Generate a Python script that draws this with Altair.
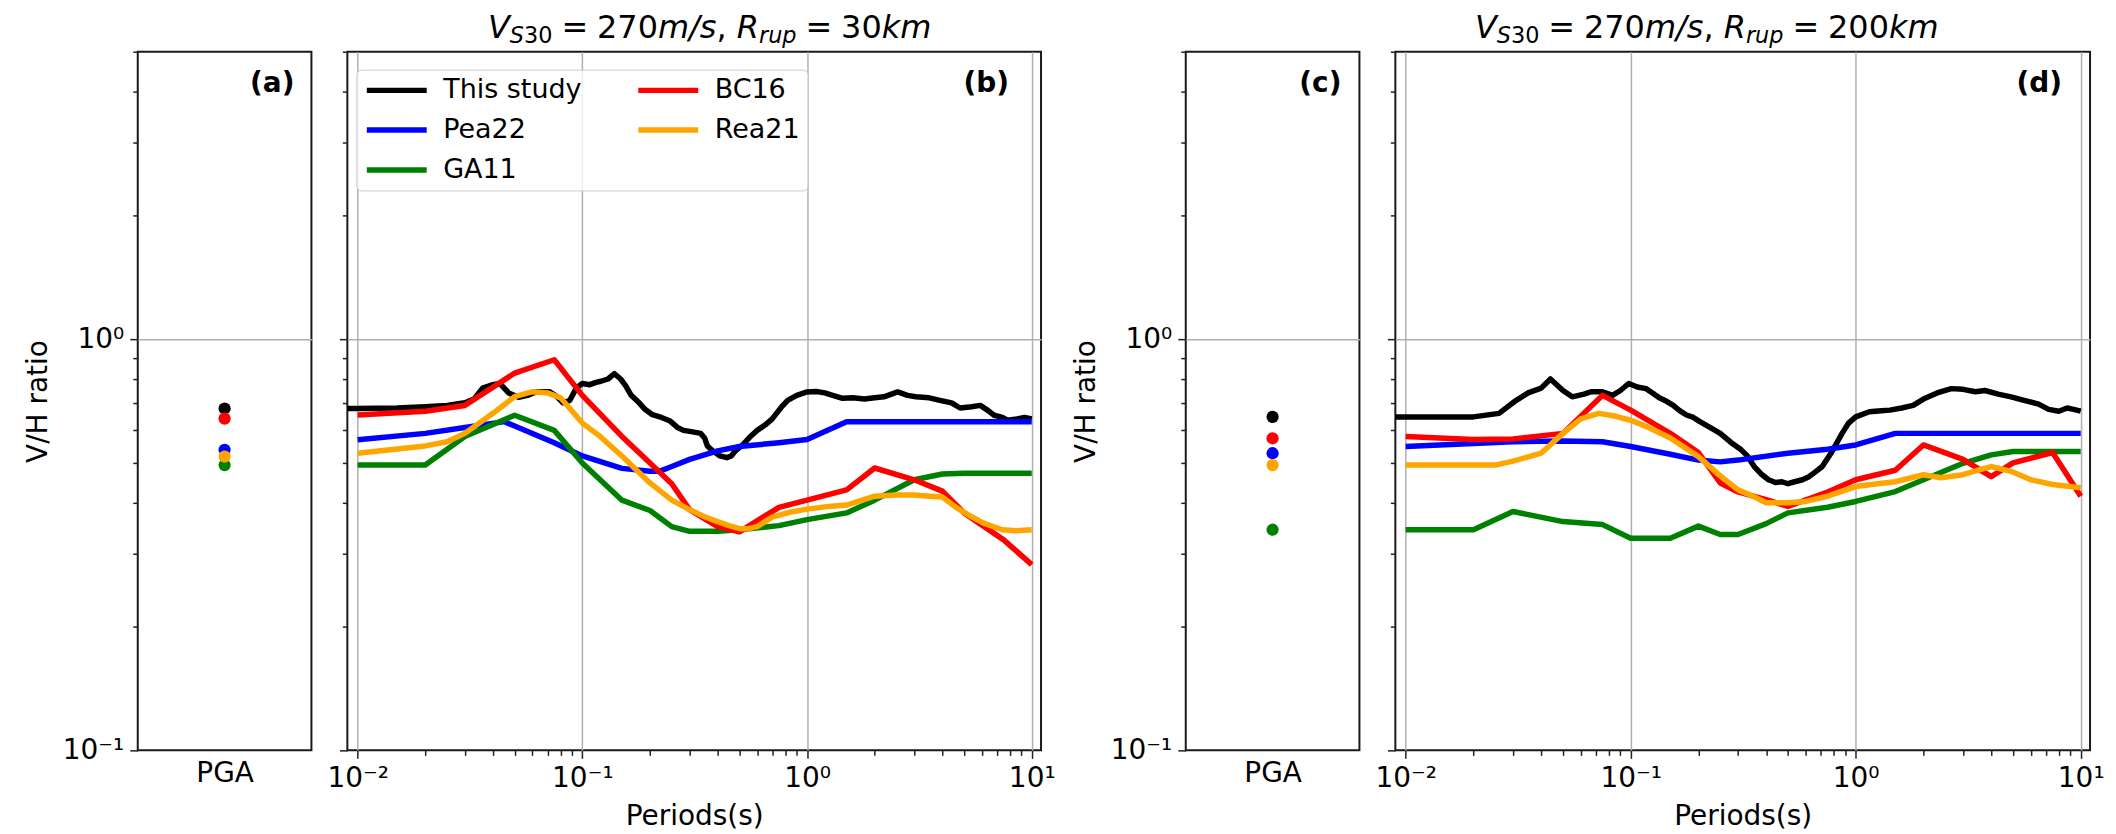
import altair as alt
import pandas as pd

FONT = "DejaVu Sans"

MODELS = ["This study", "Pea22", "GA11", "BC16", "Rea21"]
MODEL_COLORS = ["#000000", "#0000ff", "#008000", "#ff0000", "#ffa500"]
PGA_LABEL = "PGA"
TAGS = ["(a)", "(b)", "(c)", "(d)"]

# ---------------- PGA dots ----------------
pga_30 = [0.678, 0.538, 0.494, 0.641, 0.518]
pga_200 = [0.647, 0.528, 0.344, 0.574, 0.494]

# ---------------- R = 30 km ----------------
b_this_T = [0.008, 0.01, 0.015, 0.02, 0.025, 0.03, 0.033, 0.036, 0.04, 0.043, 0.047, 0.052, 0.057,
            0.0625, 0.0716, 0.077, 0.082, 0.088, 0.094, 0.1, 0.108, 0.115, 0.121, 0.13, 0.139,
            0.148, 0.156, 0.165, 0.179, 0.19, 0.205, 0.225, 0.246, 0.265, 0.282, 0.31, 0.336,
            0.35, 0.36, 0.38, 0.41, 0.44, 0.46, 0.48, 0.52, 0.56, 0.6, 0.65, 0.7, 0.77, 0.82,
            0.9, 1.0, 1.1, 1.2, 1.3, 1.44, 1.6, 1.8, 2.0, 2.2, 2.53, 2.8, 3.05, 3.5, 3.9, 4.4,
            4.8, 5.4, 5.9, 6.4, 6.8, 7.4, 7.8, 8.6, 9.3, 10.0]
b_this_v = [0.678, 0.678, 0.68, 0.685, 0.69, 0.70, 0.715, 0.76, 0.775, 0.78, 0.74, 0.722, 0.73,
            0.745, 0.745, 0.725, 0.70, 0.71, 0.76, 0.78, 0.775, 0.785, 0.79, 0.80, 0.824,
            0.80, 0.77, 0.73, 0.70, 0.675, 0.655, 0.645, 0.632, 0.61, 0.60, 0.595, 0.59,
            0.575, 0.55, 0.535, 0.52, 0.515, 0.52, 0.535, 0.555, 0.58, 0.60, 0.618, 0.64, 0.684, 0.71,
            0.73, 0.744, 0.746, 0.74, 0.73, 0.718, 0.72, 0.715, 0.72, 0.724, 0.744, 0.73, 0.724, 0.72, 0.71, 0.70,
            0.68, 0.685, 0.69, 0.67, 0.653, 0.645, 0.635, 0.64, 0.645, 0.64]

b_pea_T = [0.01, 0.02, 0.03, 0.045, 0.05, 0.075, 0.1, 0.15, 0.2, 0.22, 0.25, 0.3, 0.4, 0.5,
           0.75, 1.0, 1.5, 2.0, 3.0, 5.0, 7.5, 10.0]
b_pea_v = [0.569, 0.59, 0.61, 0.63, 0.615, 0.56, 0.52, 0.485, 0.477, 0.477, 0.49, 0.51, 0.535, 0.548,
           0.56, 0.57, 0.63, 0.63, 0.63, 0.63, 0.63, 0.63]

b_ga_T = [0.01, 0.02, 0.03, 0.05, 0.075, 0.1, 0.15, 0.2, 0.25, 0.3, 0.4, 0.5, 0.75, 1.0, 1.5,
          2.0, 3.0, 4.0, 5.0, 7.5, 10.0]
b_ga_v = [0.494, 0.494, 0.58, 0.653, 0.60, 0.50, 0.406, 0.383, 0.35, 0.341, 0.341, 0.344, 0.352,
          0.364, 0.378, 0.406, 0.455, 0.47, 0.472, 0.472, 0.472]

b_bc_T = [0.01, 0.02, 0.03, 0.05, 0.075, 0.1, 0.15, 0.2, 0.25, 0.3, 0.4, 0.5, 0.75, 1.0, 1.5,
          2.0, 3.0, 4.0, 5.0, 7.5, 10.0]
b_bc_v = [0.654, 0.668, 0.69, 0.827, 0.891, 0.73, 0.58, 0.50, 0.445, 0.385, 0.35, 0.34, 0.39,
          0.406, 0.43, 0.486, 0.455, 0.427, 0.378, 0.325, 0.283]

b_rea_T = [0.01, 0.02, 0.025, 0.03, 0.04, 0.05, 0.06, 0.07, 0.08, 0.1, 0.12, 0.15, 0.2, 0.25,
           0.3, 0.35, 0.4, 0.45, 0.5, 0.55, 0.6, 0.7, 0.85, 1.0, 1.25, 1.5, 2.0, 2.5, 3.0, 3.5,
           4.0, 4.6, 5.3, 6.1, 7.4, 8.5, 10.0]
b_rea_v = [0.528, 0.55, 0.563, 0.59, 0.66, 0.725, 0.745, 0.74, 0.72, 0.625, 0.58, 0.52, 0.447,
           0.406, 0.385, 0.37, 0.36, 0.352, 0.346, 0.346, 0.35, 0.369, 0.38, 0.386, 0.392, 0.395,
           0.415, 0.418, 0.418, 0.415, 0.413, 0.39, 0.372, 0.357, 0.344, 0.342, 0.344]

# ---------------- R = 200 km ----------------
d_this_T = [0.008, 0.01, 0.015, 0.02, 0.026, 0.031, 0.035, 0.04, 0.044, 0.05, 0.055, 0.062, 0.067,
            0.075, 0.083, 0.09, 0.098, 0.107, 0.117, 0.125, 0.134, 0.145, 0.154, 0.165, 0.177,
            0.19, 0.203, 0.225, 0.25, 0.28, 0.31, 0.33, 0.354, 0.38, 0.41, 0.44, 0.47, 0.5,
            0.535, 0.58, 0.62, 0.66, 0.71, 0.78, 0.87, 0.93, 1.0, 1.15, 1.3, 1.42, 1.6, 1.8,
            2.0, 2.3, 2.66, 3.0, 3.4, 3.75, 4.3, 4.9, 5.6, 6.5, 7.2, 8.0, 8.7, 9.3, 10.0]
d_this_v = [0.647, 0.647, 0.647, 0.647, 0.66, 0.71, 0.74, 0.76, 0.80, 0.75, 0.724, 0.735, 0.745,
            0.745, 0.73, 0.75, 0.78, 0.765, 0.758, 0.74, 0.72, 0.705, 0.691, 0.67, 0.654,
            0.645, 0.63, 0.61, 0.59, 0.56, 0.538, 0.52, 0.49, 0.47, 0.455, 0.448, 0.45, 0.445,
            0.45, 0.455, 0.463, 0.475, 0.49, 0.53, 0.59, 0.625, 0.647, 0.666, 0.67, 0.672, 0.68, 0.69,
            0.715, 0.74, 0.758, 0.755, 0.745, 0.75, 0.735, 0.724, 0.71, 0.695, 0.675, 0.668, 0.68, 0.675, 0.668]

d_pea_T = [0.01, 0.03, 0.05, 0.075, 0.1, 0.15, 0.2, 0.25, 0.3, 0.5, 0.75, 1.0, 1.5, 2.0, 3.0,
           5.0, 7.5, 10.0]
d_pea_v = [0.548, 0.563, 0.565, 0.563, 0.548, 0.525, 0.508, 0.503, 0.508, 0.528, 0.54, 0.553,
           0.59, 0.59, 0.59, 0.59, 0.59, 0.59]

d_ga_T = [0.01, 0.02, 0.03, 0.05, 0.075, 0.1, 0.15, 0.2, 0.25, 0.3, 0.4, 0.5, 0.75, 1.0, 1.5,
          2.0, 3.0, 4.0, 5.0, 7.5, 10.0]
d_ga_v = [0.344, 0.344, 0.381, 0.36, 0.354, 0.328, 0.328, 0.351, 0.335, 0.335, 0.356, 0.378,
          0.39, 0.403, 0.426, 0.455, 0.499, 0.523, 0.533, 0.533, 0.533]

d_bc_T = [0.01, 0.02, 0.03, 0.05, 0.075, 0.1, 0.15, 0.2, 0.25, 0.3, 0.4, 0.5, 0.75, 1.0, 1.5,
          2.0, 3.0, 4.0, 5.0, 7.5, 10.0]
d_bc_v = [0.58, 0.57, 0.572, 0.59, 0.73, 0.672, 0.59, 0.53, 0.447, 0.425, 0.407, 0.392, 0.425,
          0.455, 0.48, 0.553, 0.51, 0.463, 0.50, 0.53, 0.415]

d_rea_T = [0.01, 0.02, 0.025, 0.03, 0.04, 0.05, 0.06, 0.072, 0.085, 0.1, 0.12, 0.15, 0.2, 0.25,
           0.3, 0.35, 0.4, 0.5, 0.6, 0.75, 1.0, 1.25, 1.5, 2.0, 2.4, 3.0, 3.5, 4.0, 4.9, 6.0,
           7.5, 10.0]
d_rea_v = [0.494, 0.494, 0.494, 0.505, 0.528, 0.59, 0.64, 0.66, 0.65, 0.635, 0.61, 0.575, 0.518,
           0.465, 0.43, 0.415, 0.40, 0.40, 0.403, 0.415, 0.438, 0.445, 0.45, 0.468, 0.46, 0.468,
           0.48, 0.49, 0.477, 0.455, 0.443, 0.435]

# ---------------- ticks ----------------
X_MAJOR = [0.01, 0.1, 1, 10]
X_MAJOR_TEXT = ["10\u207b\u00b2", "10\u207b\u00b9", "10\u2070", "10\u00b9"]
X_MINOR = [0.02, 0.03, 0.04, 0.05, 0.06, 0.07, 0.08, 0.09,
           0.2, 0.3, 0.4, 0.5, 0.6, 0.7, 0.8, 0.9,
           2, 3, 4, 5, 6, 7, 8, 9]
Y_MAJOR = [0.1, 1]
Y_MAJOR_TEXT = ["10\u207b\u00b9", "10\u2070"]
Y_MINOR = [0.2, 0.3, 0.4, 0.5, 0.6, 0.7, 0.8, 0.9, 2, 3, 4, 5]


def cond_major(majors, yes, no):
    arr = ",".join(repr(v) for v in majors)
    return {"condition": {"test": f"indexof([{arr}], datum.value) >= 0", "value": yes}, "value": no}


def label_expr(majors, texts):
    parts = [f"datum.value == {repr(v)} ? '{t}'" for v, t in zip(majors, texts)]
    return " : ".join(parts) + " : ''"


XSCALE = alt.Scale(type="log", domain=[0.009, 11])
YSCALE = alt.Scale(type="log", domain=[0.1, 5])
CSCALE = alt.Scale(domain=MODELS, range=MODEL_COLORS)

XAXIS = alt.Axis(values=sorted(X_MAJOR + X_MINOR), labelExpr=label_expr(X_MAJOR, X_MAJOR_TEXT),
                 tickSize=cond_major(X_MAJOR, 8, 5), grid=True,
                 gridOpacity=cond_major(X_MAJOR, 1, 0), title="Periods(s)",
                 labelPadding=6, titlePadding=10, labelAngle=0)
YAXIS_LAB = alt.Axis(values=sorted(Y_MAJOR + Y_MINOR), labelExpr=label_expr(Y_MAJOR, Y_MAJOR_TEXT),
                     tickSize=cond_major(Y_MAJOR, 8, 5), grid=True,
                     gridOpacity=cond_major([1], 1, 0), title="V/H ratio",
                     labelPadding=6, titlePadding=10)
YAXIS_NOLAB = alt.Axis(values=sorted(Y_MAJOR + Y_MINOR), labels=False,
                       tickSize=cond_major(Y_MAJOR, 8, 5), grid=True,
                       gridOpacity=cond_major([1], 1, 0), title=None)

H = 700
W_DOT = 174
W_B = 695
W_D = 696

# ---------------- title helper (mathtext-like) ----------------
EM = {'V': 0.684, 'S': 0.635, '3': 0.636, '0': 0.636, '2': 0.636, '7': 0.636, '=': 0.838,
      'm': 0.974, '/': 0.337, 's': 0.521, ',': 0.318, 'R': 0.695, 'r': 0.411, 'u': 0.634,
      'p': 0.635, 'k': 0.579}


def math_title(segments, cx, base_y, F):
    sub_f = 0.7 * F
    pos = []
    x = 0.0
    for text, italic, sub, gap in segments:
        x += gap * F
        size = sub_f if sub else F
        pos.append((x, text, italic, sub, size))
        x += sum(EM.get(c, 0.6) for c in text) * size
    x0 = cx - x / 2
    layers = []
    for px, text, italic, sub, size in pos:
        layers.append(
            alt.Chart(pd.DataFrame({"t": [text]}))
            .mark_text(align="left", baseline="alphabetic", font=FONT, fontSize=size,
                       fontStyle="italic" if italic else "normal", color="black")
            .encode(x=alt.value(x0 + px), y=alt.value(base_y + (5 if sub else 0)), text="t:N")
        )
    return layers


def title_segments(dist):
    return [("V", True, False, 0), ("S", True, True, 0), ("30", False, True, 0),
            ("=", False, False, 0.278), ("270", False, False, 0.278), ("m/s", True, False, 0),
            (",", False, False, 0), ("R", True, False, 0.318), ("rup", True, True, 0),
            ("=", False, False, 0.278), (dist, False, False, 0.278), ("km", True, False, 0)]


def tag_layer(tag, x):
    return (alt.Chart(pd.DataFrame({"t": [tag]}))
            .mark_text(align="right", baseline="middle", font=FONT, fontSize=28,
                       fontWeight="bold", color="black")
            .encode(x=alt.value(x), y=alt.value(32), text="t:N"))


def dots_panel(values, tag, tag_x):
    df = pd.DataFrame({"model": MODELS, "v": values, "site": [PGA_LABEL] * len(MODELS)})
    dots = alt.Chart(df).mark_circle(size=150, opacity=1).encode(
        x=alt.X("site:N", scale=alt.Scale(type="point"),
                axis=alt.Axis(title=None, ticks=False, labelAngle=0, labelPadding=9, grid=False)),
        y=alt.Y("v:Q", scale=YSCALE, axis=YAXIS_LAB),
        color=alt.Color("model:N", scale=CSCALE, legend=None),
    )
    return alt.layer(dots, tag_layer(tag, tag_x)).properties(width=W_DOT, height=H)


def line_panel(Ts, vs, width, legend, tag, tag_x, titles):
    rows = []
    for m, tl, vl in zip(MODELS, Ts, vs):
        assert len(tl) == len(vl), m
        for t, v in zip(tl, vl):
            rows.append({"model": m, "T": t, "v": v})
    df = pd.DataFrame(rows)
    layers = []
    for m in MODELS:
        layers.append(
            alt.Chart(df).transform_filter(alt.datum.model == m)
            .mark_line(strokeWidth=5.5, clip=True, strokeJoin="round")
            .encode(x=alt.X("T:Q", scale=XSCALE, axis=XAXIS),
                    y=alt.Y("v:Q", scale=YSCALE, axis=YAXIS_NOLAB),
                    color=alt.Color("model:N", scale=CSCALE, legend=legend))
        )
    layers.append(tag_layer(tag, tag_x))
    layers.extend(titles)
    return alt.layer(*layers).properties(width=width, height=H)


LEGEND = alt.Legend(orient="none", legendX=9, legendY=18, columns=2, title=None,
                    symbolType="M-1,0H5", symbolSize=400, symbolStrokeWidth=5.5,
                    labelFont=FONT, labelFontSize=27, labelColor="black", labelOffset=53,
                    rowPadding=12, columnPadding=45, padding=7,
                    fillColor="rgba(255,255,255,0.8)", strokeColor="#cccccc",
                    cornerRadius=5, labelLimit=500)

panel_a = dots_panel(pga_30, TAGS[0], 157)
panel_b = line_panel([b_this_T, b_pea_T, b_ga_T, b_bc_T, b_rea_T],
                     [b_this_v, b_pea_v, b_ga_v, b_bc_v, b_rea_v],
                     W_B, LEGEND, TAGS[1], 663,
                     math_title(title_segments("30"), 363, -13.5, 32))
spacer = (alt.Chart(pd.DataFrame({"s": [0]})).mark_point(opacity=0)
          .encode(x=alt.value(0), y=alt.value(0))
          .properties(width=73, height=H, view=alt.ViewBackground(stroke="transparent")))
panel_c = dots_panel(pga_200, TAGS[2], 156)
panel_d = line_panel([d_this_T, d_pea_T, d_ga_T, d_bc_T, d_rea_T],
                     [d_this_v, d_pea_v, d_ga_v, d_bc_v, d_rea_v],
                     W_D, None, TAGS[3], 668,
                     math_title(title_segments("200"), 312, -13.5, 32))

chart = (
    alt.hconcat(panel_a, panel_b, spacer, panel_c, panel_d, spacing=36, bounds="flush")
    .resolve_scale(color="independent")
    .configure(font=FONT)
    .configure_view(stroke="#1a1a1a", strokeWidth=2)
    .configure_axis(labelFont=FONT, titleFont=FONT, labelColor="black", titleColor="black",
                    labelFontSize=28, titleFontSize=28, titleFontWeight="normal",
                    tickColor="#222222", tickWidth=1.5, gridColor="#b0b0b0", gridWidth=1.5,
                    domain=False, labelOverlap=False, labelFlush=False)
    .properties(padding={"left": 15, "top": 2, "right": 2, "bottom": 0}, background="white")
)

chart.save("out.html", embed_options={"renderer": "svg", "actions": False})
